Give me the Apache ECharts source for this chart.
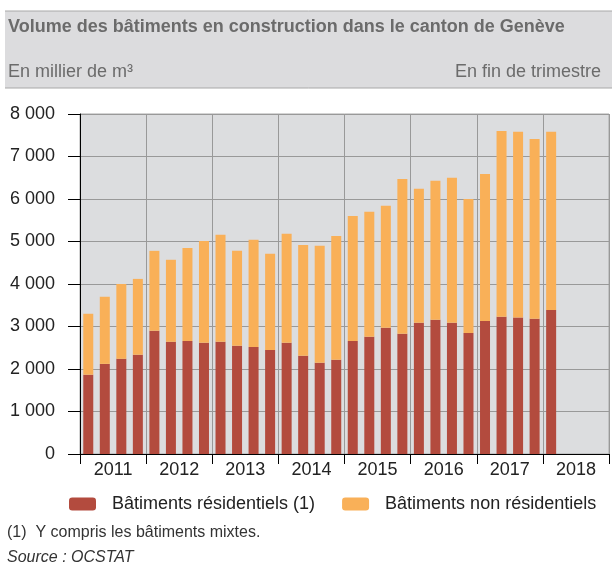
<!DOCTYPE html>
<html lang="fr">
<head>
<meta charset="UTF-8">
<script src="https://cdn.jsdelivr.net/npm/echarts@6/dist/echarts.min.js"></script>
<style>
  html, body { margin: 0; padding: 0; background: #fff; }
  #chart { width: 612px; height: 565px; }
</style>
</head>
<body>
<div id="chart"></div>
<script>
// trimestres 2011T1 .. 2018T4 (seuls 29 sont renseignés)
const years = ['2011', '2012', '2013', '2014', '2015', '2016', '2017', '2018'];
const quarters = [];
years.forEach(y => { for (let q = 1; q <= 4; q++) quarters.push(y + 'T' + q); });

// en millier de m3
const residentiels = [
  1865, 2120, 2240, 2335,
  2900, 2640, 2660, 2620,
  2640, 2550, 2520, 2450,
  2620, 2310, 2150, 2220,
  2660, 2760, 2970, 2830,
  3090, 3160, 3090, 2850,
  3130, 3230, 3210, 3180,
  3390
];
const nonResidentiels = [
  1435, 1580, 1760, 1785,
  1880, 1930, 2190, 2390,
  2520, 2230, 2520, 2260,
  2560, 2610, 2750, 2910,
  2940, 2940, 2870, 3640,
  3150, 3270, 3410, 3150,
  3460, 4370, 4370, 4230,
  4190
];
const yTicks = [0, 1000, 2000, 3000, 4000, 5000, 6000, 7000, 8000];

const chart = echarts.init(document.getElementById('chart'), null, { renderer: 'canvas' });
const font = 'Liberation Sans, Arial, sans-serif';
const fmt = v => String(v).replace(/\B(?=(\d{3})+(?!\d))/g, ' ');

chart.setOption({
  animation: false,
  textStyle: { fontFamily: font },
  graphic: [
    // bandeau de titre
    { type: 'rect', shape: { x: 5, y: 11, width: 607, height: 77 }, style: { fill: '#dcdcde' } },
    { type: 'line', shape: { x1: 5, y1: 11, x2: 612, y2: 11 }, style: { stroke: '#a8a8a8', lineWidth: 1 } },
    { type: 'line', shape: { x1: 5, y1: 88, x2: 612, y2: 88 }, style: { stroke: '#a8a8a8', lineWidth: 1 } },
    { type: 'text', left: 8, top: 18, style: { text: 'Volume des bâtiments en construction dans le canton de Genève', font: 'bold 18px ' + font, fill: '#6b6b6b' } },
    { type: 'text', left: 8, top: 63, style: { text: 'En millier de m³', font: '18px ' + font, fill: '#6b6b6b' } },
    { type: 'text', right: 11, top: 63, style: { text: 'En fin de trimestre', font: '18px ' + font, fill: '#6b6b6b' } },
    // notes
    { type: 'text', left: 7, top: 525, style: { text: '(1)  Y compris les bâtiments mixtes.', font: '16px ' + font, fill: '#333' } },
    { type: 'text', left: 7, top: 550, style: { text: 'Source : OCSTAT', font: 'italic 16px ' + font, fill: '#333' } }
  ],
  legend: {
    left: 64, top: 490, padding: [5, 5],
    itemWidth: 27, itemHeight: 13, itemGap: 27,
    textStyle: { fontSize: 18, color: '#222', padding: [0, 0, 0, 11] },
    data: ['Bâtiments résidentiels (1)', 'Bâtiments non résidentiels']
  },
  grid: {
    left: 80, right: 3, top: 114, bottom: 111,
    show: true, backgroundColor: '#dcdddf', borderColor: '#a8a8a8', borderWidth: 1
  },
  xAxis: [
    { type: 'category', data: quarters, position: 'top', show: false },
    {
      type: 'category', data: years, position: 'bottom', boundaryGap: true,
      axisLine: { show: true, lineStyle: { color: '#000', width: 1 } },
      axisTick: { show: true, length: 10, lineStyle: { color: '#000' } },
      axisLabel: { fontSize: 18, color: '#222', margin: 7 },
      splitLine: { show: true, lineStyle: { color: '#999', width: 1 } }
    }
  ],
  yAxis: {
    type: 'value', min: yTicks[0], max: yTicks[yTicks.length - 1], interval: 1000,
    axisLine: { show: true, lineStyle: { color: '#000', width: 1 } },
    axisTick: { show: true, length: 12, lineStyle: { color: '#000' } },
    axisLabel: { fontSize: 18, color: '#222', margin: 25, formatter: fmt },
    splitLine: { show: true, lineStyle: { color: '#999', width: 1 } }
  },
  series: [
    {
      name: 'Bâtiments résidentiels (1)', type: 'bar', stack: 'vol', xAxisIndex: 0,
      barWidth: 10, itemStyle: { color: '#b34b3e' }, data: residentiels
    },
    {
      name: 'Bâtiments non résidentiels', type: 'bar', stack: 'vol', xAxisIndex: 0,
      barWidth: 10, itemStyle: { color: '#f9b058' }, data: nonResidentiels
    }
  ]
});
</script>
</body>
</html>
